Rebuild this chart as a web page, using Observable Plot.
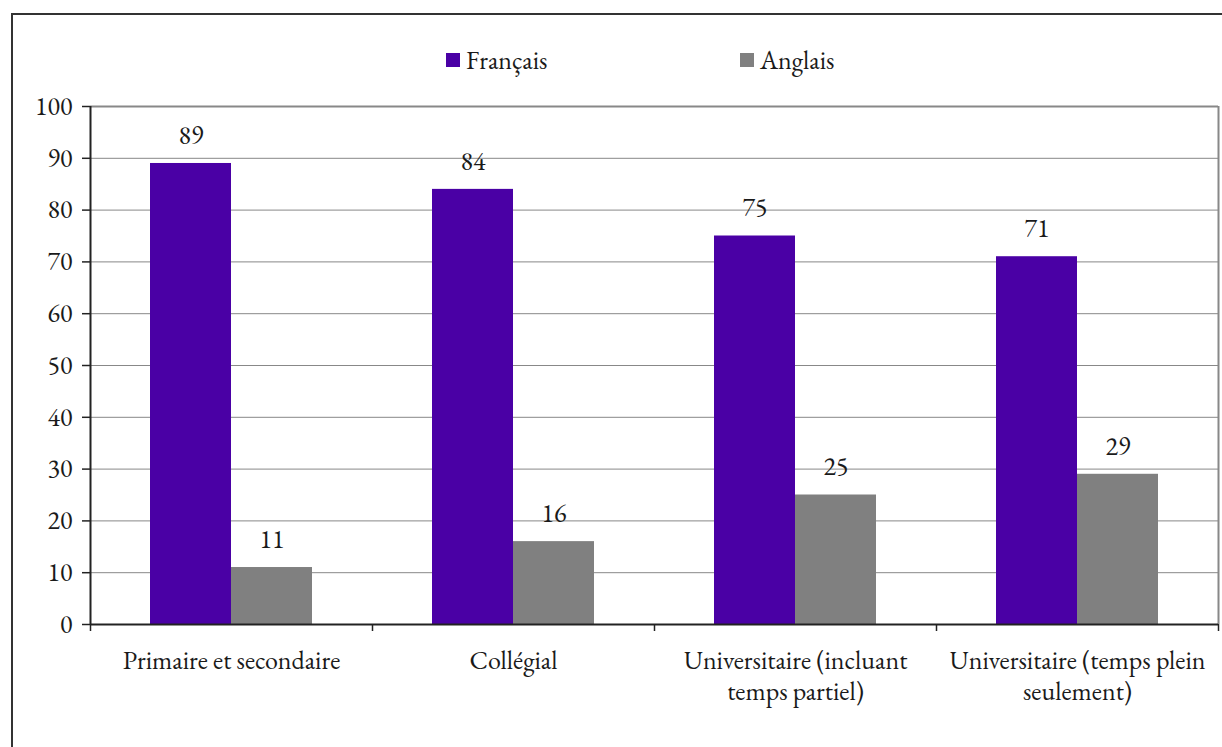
<!DOCTYPE html>
<html><head><meta charset="utf-8">
<script src="https://cdn.jsdelivr.net/npm/d3@7"></script>
<script src="https://cdn.jsdelivr.net/npm/@observablehq/plot@0.6"></script>
<style>
html,body{margin:0;padding:0;background:#fff;}
body{width:1222px;height:747px;overflow:hidden;position:relative;font-family:'EB Garamond','Liberation Serif',serif;}
#frame{position:absolute;left:11px;top:13px;width:1400px;height:1000px;border-left:2px solid #333;border-top:2px solid #333;pointer-events:none;}
#legend{height:80px;position:relative;}
.item{position:absolute;top:48px;display:flex;align-items:center;font-family:'EB Garamond','Liberation Serif',serif;font-size:26px;line-height:24px;color:#1a1a1a;}
.sw{width:14px;height:14px;margin-right:6px;}
#chart svg{display:block;}
#chart svg text{font-family:'EB Garamond','Liberation Serif',serif;}
</style></head><body>
<div id="frame"></div>
<div id="legend"></div>
<div id="chart"></div>
<script>
const categories = ["Primaire et secondaire", "Collégial", "Universitaire (incluant temps partiel)", "Universitaire (temps plein seulement)"];
const tickLabels = ["Primaire et secondaire", "Collégial", "Universitaire (incluant\ntemps partiel)", "Universitaire (temps plein\nseulement)"];
const series = ["Français", "Anglais"];
const colors = ["#4a00a5", "#808080"];
const francais = [89, 84, 75, 71];
const anglais = [11, 16, 25, 29];
const yTicks = [0, 10, 20, 30, 40, 50, 60, 70, 80, 90, 100];

const FONT = "'EB Garamond', 'Liberation Serif', serif";

// legend
const legendLeft = [446, 740];
const legend = document.getElementById("legend");
series.forEach((s, i) => {
  const item = document.createElement("div");
  item.className = "item";
  item.style.left = legendLeft[i] + "px";
  const sw = document.createElement("span");
  sw.className = "sw";
  sw.style.background = colors[i];
  const t = document.createElement("span");
  t.textContent = s;
  item.append(sw, t);
  legend.append(item);
});

const rowsF = categories.map((c, i) => ({cat: c, series: series[0], value: francais[i]}));
const rowsA = categories.map((c, i) => ({cat: c, series: series[1], value: anglais[i]}));
const halfBand = 141;
const fs = 26;
const ink = "#1a1a1a";

const chart = Plot.plot({
  width: 1222,
  height: 667,
  marginTop: 26,
  marginLeft: 90,
  marginRight: 4,
  marginBottom: 123,
  style: {fontFamily: FONT, fontSize: fs + "px", color: ink, background: "transparent"},
  x: {domain: categories, padding: 0, axis: null},
  y: {domain: [0, 100], axis: null},
  color: {domain: series, range: colors},
  marks: [
    Plot.gridY(yTicks.filter(t => t > 0 && t < 100), {stroke: "#888", strokeOpacity: 1, strokeWidth: 1}),
    Plot.ruleY([100], {stroke: "#888", strokeWidth: 2}),
    Plot.ruleX([categories[categories.length - 1]], {dx: halfBand, y1: 0, y2: 100, stroke: "#888", strokeWidth: 2}),
    Plot.barY(rowsF, {x: "cat", y: "value", fill: "series", insetLeft: 60, insetRight: 141}),
    Plot.barY(rowsA, {x: "cat", y: "value", fill: "series", insetLeft: 141, insetRight: 60}),
    Plot.text(rowsF, {x: "cat", y: "value", text: "value", dx: -40.5, dy: -28, fontSize: fs, fill: ink, fontFamily: FONT}),
    Plot.text(rowsA, {x: "cat", y: "value", text: "value", dx: 40.5, dy: -28, fontSize: fs, fill: ink, fontFamily: FONT}),
    Plot.ruleY([0], {stroke: "#222", strokeWidth: 2}),
    Plot.ruleX(categories, {dx: -halfBand, y1: 0, y2: 0, insetBottom: -7, stroke: "#222", strokeWidth: 1.5}),
    Plot.ruleX([categories[categories.length - 1]], {dx: halfBand, y1: 0, y2: 0, insetBottom: -7, stroke: "#222", strokeWidth: 1.5}),
    Plot.ruleX([categories[0]], {dx: -halfBand, y1: 0, y2: 100, stroke: "#222", strokeWidth: 2}),
    Plot.axisY({ticks: yTicks, tickSize: 8, tickPadding: 10, fontSize: fs, stroke: "#222", strokeWidth: 1.5, fill: ink, label: null, fontFamily: FONT}),
    Plot.axisX({tickSize: 0, tickPadding: 22, fontSize: fs, lineHeight: 1.2, fill: ink, label: null, fontFamily: FONT,
      tickFormat: d => tickLabels[categories.indexOf(d)]})
  ]
});
document.getElementById("chart").append(chart);
</script>
</body></html>
